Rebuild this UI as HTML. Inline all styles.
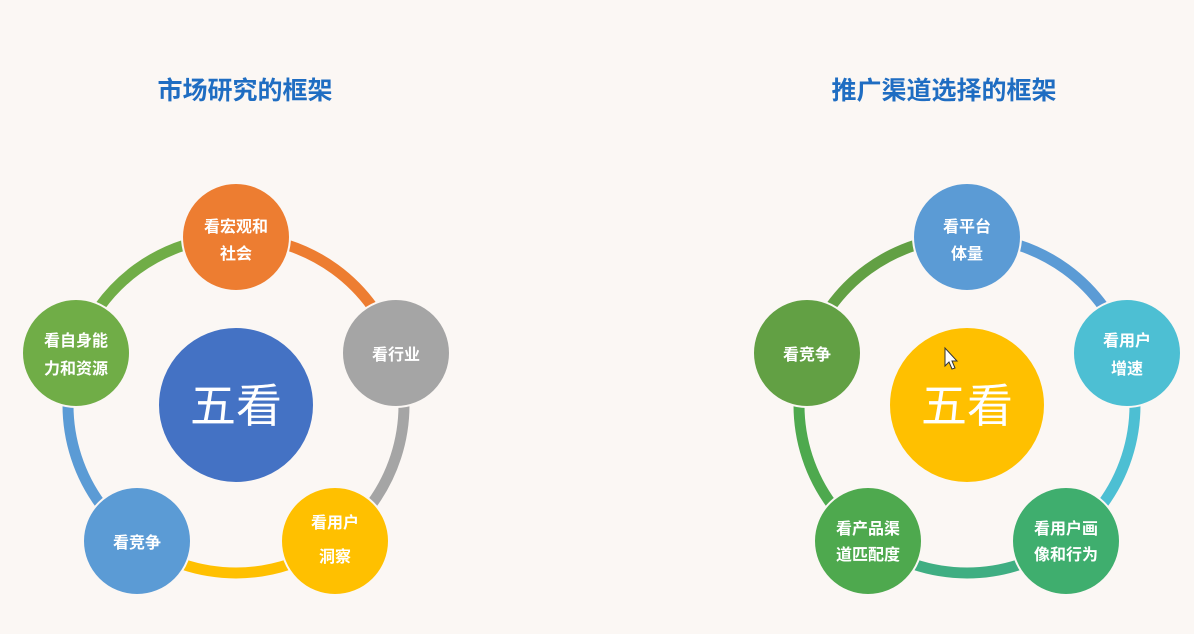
<!DOCTYPE html>
<html><head><meta charset="utf-8"><style>
html,body{margin:0;padding:0;background:#fbf7f4;}
svg{display:block;}
text{font-family:"Liberation Sans","Noto Sans CJK SC",sans-serif;}
</style></head><body>
<svg width="1194" height="634" viewBox="0 0 1194 634">
<rect width="1194" height="634" fill="#fbf7f4"/>
<text x="245" y="99" font-size="25" font-weight="bold" fill="#1f6dc2" text-anchor="middle">市场研究的框架</text>
<text x="944" y="99" font-size="25" font-weight="bold" fill="#1f6dc2" text-anchor="middle">推广渠道选择的框架</text>
<g fill="none" stroke-width="11">
<path d="M236,237 A168,168 0 0 1 395.8,353.1" stroke="#ed7d31"/>
<path d="M395.8,353.1 A168,168 0 0 1 334.7,540.9" stroke="#a5a5a5"/>
<path d="M334.7,540.9 A168,168 0 0 1 137.3,540.9" stroke="#ffc000"/>
<path d="M137.3,540.9 A168,168 0 0 1 76.2,353.1" stroke="#5b9bd5"/>
<path d="M76.2,353.1 A168,168 0 0 1 236,237" stroke="#70ad47"/>
<path d="M967,237 A168,168 0 0 1 1126.8,353.1" stroke="#5b9bd5"/>
<path d="M1126.8,353.1 A168,168 0 0 1 1065.7,540.9" stroke="#4dbfd3"/>
<path d="M1065.7,540.9 A168,168 0 0 1 868.3,540.9" stroke="#3fae82"/>
<path d="M868.3,540.9 A168,168 0 0 1 807.2,353.1" stroke="#4ea94e"/>
<path d="M807.2,353.1 A168,168 0 0 1 967,237" stroke="#62a044"/>
</g>
<g stroke="#fbf7f4" stroke-width="2">
<circle cx="236" cy="405" r="78" fill="#4472c4"/>
<circle cx="236" cy="237" r="54" fill="#ed7d31"/>
<circle cx="396" cy="353" r="54" fill="#a5a5a5"/>
<circle cx="335" cy="541" r="54" fill="#ffc000"/>
<circle cx="137" cy="541" r="54" fill="#5b9bd5"/>
<circle cx="76" cy="353" r="54" fill="#70ad47"/>
<circle cx="967" cy="405" r="78" fill="#ffc000"/>
<circle cx="967" cy="237" r="54" fill="#5b9bd5"/>
<circle cx="1127" cy="353" r="54" fill="#4dbfd3"/>
<circle cx="1066" cy="541" r="54" fill="#3fae6e"/>
<circle cx="868" cy="541" r="54" fill="#4ea94e"/>
<circle cx="807" cy="353" r="54" fill="#62a044"/>
</g>
<g fill="#fff" font-size="16" font-weight="bold" text-anchor="middle">
<text x="236" y="422" font-size="46" font-weight="normal">五看</text>
<text x="236" y="232">看宏观和</text><text x="236" y="259">社会</text>
<text x="396" y="360">看行业</text>
<text x="335" y="528">看用户</text><text x="335" y="562">洞察</text>
<text x="137" y="548">看竞争</text>
<text x="76" y="346">看自身能</text><text x="76" y="374">力和资源</text>
<text x="967" y="422" font-size="46" font-weight="normal">五看</text>
<text x="967" y="232">看平台</text><text x="967" y="259">体量</text>
<text x="1127" y="346">看用户</text><text x="1127" y="374">增速</text>
<text x="1066" y="534">看用户画</text><text x="1066" y="560">像和行为</text>
<text x="868" y="534">看产品渠</text><text x="868" y="560">道匹配度</text>
<text x="807" y="360">看竞争</text>
</g>
<path d="M945,348 L945,366 L949,362 L952,369 L955,368 L952,361 L957,361 Z" fill="#fff" stroke="#333" stroke-width="1"/>
</svg>
</body></html>
